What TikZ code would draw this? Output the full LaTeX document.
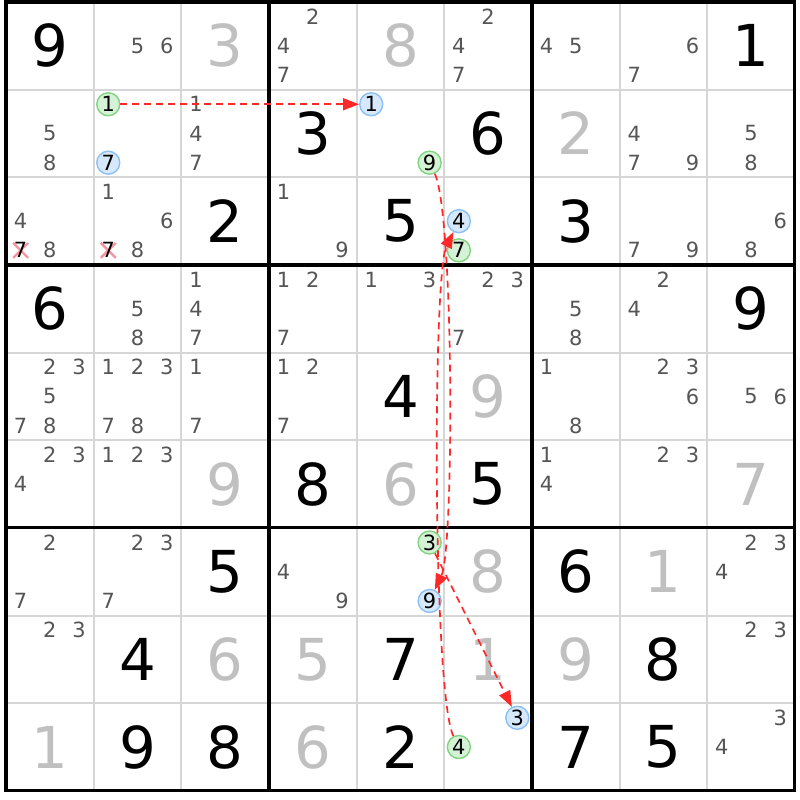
\documentclass[tikz,border=0pt]{standalone}
\usepackage{fontspec}
\setmainfont{DejaVu Sans}
\usetikzlibrary{arrows.meta,backgrounds}

\definecolor{candgray}{RGB}{85,85,85}
\definecolor{solvedgray}{RGB}{192,192,192}
\definecolor{gridgray}{RGB}{214,214,214}
\definecolor{ongreen}{RGB}{128,212,128}
\definecolor{ongreenfill}{RGB}{214,242,214}
\definecolor{offblue}{RGB}{140,192,244}
\definecolor{offbluefill}{RGB}{214,233,252}
\definecolor{chainred}{RGB}{255,40,40}
\definecolor{strikepink}{RGB}{244,150,160}

\tikzset{
  given/.style={inner sep=0pt, font=\fontsize{58}{60}\selectfont},
  solved/.style={given, text=solvedgray},
  cand/.style={inner sep=0pt, text=candgray, font=\fontsize{21}{22}\selectfont},
  oncand/.style={circle, inner sep=0pt, minimum size=23bp, line width=1.4bp,
    draw=ongreen, fill=ongreenfill, font=\fontsize{21}{22}\selectfont},
  offcand/.style={oncand, draw=offblue, fill=offbluefill},
  chain/.style={chainred, line width=1.7bp, dash pattern=on 7bp off 5bp,
    -{Triangle[length=16bp,width=12bp]}},
  strike/.style={strikepink, line width=2.4bp},
}

% value in a cell: style, row, column, digit
\newcommand{\cellval}[4]{\node[#1] (v#2#3) at (#3-0.5,#2-0.5) {#4};}
% pencil marks in a cell: row, column, digits
\newcommand{\cellcands}[3]{%
  \foreach \k in {#3}{%
    \pgfmathtruncatemacro{\kc}{mod(\k-1,3)}%
    \pgfmathtruncatemacro{\kr}{div(\k-1,3)}%
    \node[cand] (c#1#2\k) at ({#2-1+(\kc+0.5)/3},{#1-1+(\kr+0.5)/3}) {\k};
  }}

\begin{document}
\begin{tikzpicture}[x=87.65bp, y=-87.65bp]
\useasboundingbox (-0.0685,-0.0228) rectangle (9.0588,9.1044);
\begin{scope}[on background layer]
\fill[white] (-0.0685,-0.0228) rectangle (9.0588,9.1044);
\end{scope}
%
\foreach \i in {1,2,4,5,7,8} {
  \draw[gridgray, line width=2bp] (\i,0) -- (\i,9);
  \draw[gridgray, line width=2bp] (0,\i) -- (9,\i);
}
\foreach \i in {3,6} {
  \draw[line width=3.2bp] (\i,0) -- (\i,9);
  \draw[line width=3.2bp] (0,\i) -- (9,\i);
}
\draw[line width=3.2bp] (0,0) rectangle (9,9);
%
% row 1
\cellval{given}{1}{1}{9}
\cellcands{1}{2}{5,6}
\cellval{solved}{1}{3}{3}
\cellcands{1}{4}{2,4,7}
\cellval{solved}{1}{5}{8}
\cellcands{1}{6}{2,4,7}
\cellcands{1}{7}{4,5}
\cellcands{1}{8}{6,7}
\cellval{given}{1}{9}{1}
% row 2
\cellcands{2}{1}{5,8}
\node[oncand] (on1) at ({1+1/6},{1+1/6}) {1};
\node[offcand] (off7) at ({1+1/6},{1+5/6}) {7};
\cellcands{2}{3}{1,4,7}
\cellval{given}{2}{4}{3}
\node[offcand] (off1) at ({4+1/6},{1+1/6}) {1};
\node[oncand] (on9) at ({4+5/6},{1+5/6}) {9};
\cellval{given}{2}{6}{6}
\cellval{solved}{2}{7}{2}
\cellcands{2}{8}{4,7,9}
\cellcands{2}{9}{5,8}
% row 3
\cellcands{3}{1}{4,8}
\node[cand, text=black] (c317) at ({1/6},{2+5/6}) {7};
\cellcands{3}{2}{1,6,8}
\node[cand, text=black] (c327) at ({1+1/6},{2+5/6}) {7};
\cellval{given}{3}{3}{2}
\cellcands{3}{4}{1,9}
\cellval{given}{3}{5}{5}
\node[offcand] (off4) at ({5+1/6},{2+1/2}) {4};
\node[oncand] (on7) at ({5+1/6},{2+5/6}) {7};
\cellval{given}{3}{7}{3}
\cellcands{3}{8}{7,9}
\cellcands{3}{9}{6,8}
% row 4
\cellval{given}{4}{1}{6}
\cellcands{4}{2}{5,8}
\cellcands{4}{3}{1,4,7}
\cellcands{4}{4}{1,2,7}
\cellcands{4}{5}{1,3}
\cellcands{4}{6}{2,3,7}
\cellcands{4}{7}{5,8}
\cellcands{4}{8}{2,4}
\cellval{given}{4}{9}{9}
% row 5
\cellcands{5}{1}{2,3,5,7,8}
\cellcands{5}{2}{1,2,3,7,8}
\cellcands{5}{3}{1,7}
\cellcands{5}{4}{1,2,7}
\cellval{given}{5}{5}{4}
\cellval{solved}{5}{6}{9}
\cellcands{5}{7}{1,8}
\cellcands{5}{8}{2,3,6}
\cellcands{5}{9}{5,6}
% row 6
\cellcands{6}{1}{2,3,4}
\cellcands{6}{2}{1,2,3}
\cellval{solved}{6}{3}{9}
\cellval{given}{6}{4}{8}
\cellval{solved}{6}{5}{6}
\cellval{given}{6}{6}{5}
\cellcands{6}{7}{1,4}
\cellcands{6}{8}{2,3}
\cellval{solved}{6}{9}{7}
% row 7
\cellcands{7}{1}{2,7}
\cellcands{7}{2}{2,3,7}
\cellval{given}{7}{3}{5}
\cellcands{7}{4}{4,9}
\node[oncand] (on3) at ({4+5/6},{6+1/6}) {3};
\node[offcand] (off9) at ({4+5/6},{6+5/6}) {9};
\cellval{solved}{7}{6}{8}
\cellval{given}{7}{7}{6}
\cellval{solved}{7}{8}{1}
\cellcands{7}{9}{2,3,4}
% row 8
\cellcands{8}{1}{2,3}
\cellval{given}{8}{2}{4}
\cellval{solved}{8}{3}{6}
\cellval{solved}{8}{4}{5}
\cellval{given}{8}{5}{7}
\cellval{solved}{8}{6}{1}
\cellval{solved}{8}{7}{9}
\cellval{given}{8}{8}{8}
\cellcands{8}{9}{2,3}
% row 9
\cellval{solved}{9}{1}{1}
\cellval{given}{9}{2}{9}
\cellval{given}{9}{3}{8}
\cellval{solved}{9}{4}{6}
\cellval{given}{9}{5}{2}
\node[offcand] (off3) at ({5+5/6},{8+1/6}) {3};
\node[oncand] (on4) at ({5+1/6},{8+1/2}) {4};
\cellval{given}{9}{7}{7}
\cellval{given}{9}{8}{5}
\cellcands{9}{9}{3,4}
%
% struck out 7s
\begin{scope}[on background layer]
\draw[strike] ([shift={(-0.085,-0.085)}]c317.center) -- ([shift={(0.085,0.085)}]c317.center);
\draw[strike] ([shift={(-0.085,0.085)}]c317.center) -- ([shift={(0.085,-0.085)}]c317.center);
\draw[strike] ([shift={(-0.085,-0.085)}]c327.center) -- ([shift={(0.085,0.085)}]c327.center);
\draw[strike] ([shift={(-0.085,0.085)}]c327.center) -- ([shift={(0.085,-0.085)}]c327.center);
\end{scope}
%
% chain
\draw[chain] (on1) -- (off1);
\draw[chain] (on9) .. controls +(0.28,0.6) and +(0.28,-0.6) .. (off9);
\draw[chain] (on4) .. controls +(-0.3,-0.6) and +(-0.3,0.6) .. (off4);
\draw[chain] (on3) -- (off3);
%%%%%%%%%%%%%%%%%%%%%%%%%%%%%%%
\end{tikzpicture}
\end{document}
